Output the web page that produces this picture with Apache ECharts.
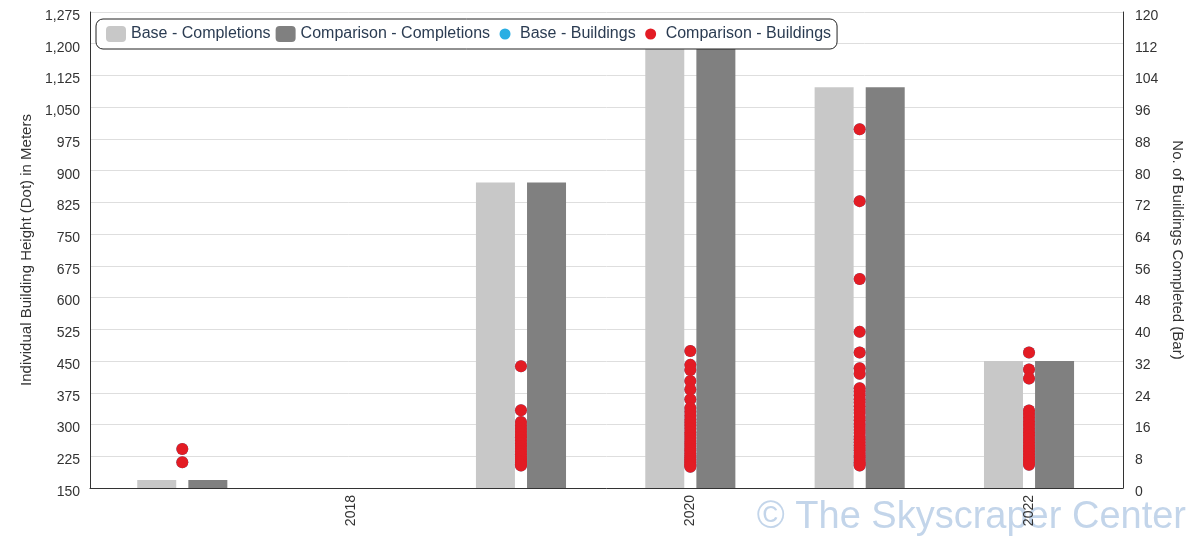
<!DOCTYPE html>
<html>
<head>
<meta charset="utf-8">
<script src="https://cdn.jsdelivr.net/npm/echarts@6/dist/echarts.min.js"></script>
<style>html,body{margin:0;padding:0;background:#fff}#c{width:1200px;height:537px}</style>
</head>
<body>
<div id="c"></div>
<script>
var years = ['2017', '2018', '2019', '2020', '2021', '2022'];
var baseCompletions = [2, 0, 77, 118, 101, 32];
var comparisonCompletions = [2, 0, 77, 118, 101, 32];

var heights2017 = [242, 211];
var heights2018 = [];
var heights2019 = [438, 334, 306, 298, 290, 283, 276, 270, 262, 255, 249, 243, 236, 230, 224, 219, 214, 210, 206, 203];
var heights2020 = [474, 441, 429, 403, 383, 360, 339, 330, 321, 312, 305, 298, 290, 282, 275, 268, 261, 255, 249, 243, 238, 232, 227, 222, 218, 214, 210, 206, 203, 200];
var heights2021 = [998, 828, 644, 519, 470, 433, 420, 386, 378, 369, 360, 352, 343, 335, 327, 318, 310, 302, 295, 287, 280, 272, 265, 258, 251, 245, 239, 233, 227, 222, 216, 211, 207, 203];
var heights2022 = [470, 430, 409, 333, 325, 316, 307, 299, 290, 282, 274, 266, 258, 250, 243, 236, 229, 222, 216, 210, 205];

var heightsByYear = [heights2017, heights2018, heights2019, heights2020, heights2021, heights2022];
var baseBuildings = heightsByYear;
var comparisonBuildings = heightsByYear;

function barData(arr) { return arr.map(function (v, i) { return [i, v]; }); }
function dotData(groups) {
  var out = [];
  groups.forEach(function (g, i) { g.forEach(function (h) { out.push([i, h]); }); });
  return out;
}

var FONT = "'Liberation Sans', Arial, sans-serif";
var chart = echarts.init(document.getElementById('c'), null, { renderer: 'canvas' });
var dotIcon = 'path://M0,0L0.05,0L0.05,0.05Z M20,16L19.95,16L19.95,15.95Z M15.5,8A5.5,5.5,0,1,1,4.5,8A5.5,5.5,0,1,1,15.5,8Z';

chart.setOption({
  animation: false,
  textStyle: { fontFamily: FONT },
  grid: { left: 90, right: 77, top: 12, bottom: 49, containLabel: false },
  legend: {
    left: 96, top: 19,
    padding: [7, 6, 7, 10],
    backgroundColor: '#fff',
    borderColor: '#222', borderWidth: 1, borderRadius: 7,
    itemWidth: 20, itemHeight: 16, itemGap: 5,
    textStyle: { fontSize: 16, color: '#2b3c52', fontFamily: FONT },
    data: [
      { name: 'Base - Completions', icon: 'roundRect' },
      { name: 'Comparison - Completions', icon: 'roundRect' },
      { name: 'Base - Buildings', icon: dotIcon },
      { name: 'Comparison - Buildings', icon: dotIcon }
    ]
  },
  xAxis: {
    type: 'value',
    min: -0.545, max: 5.555,
    axisLine: { show: true, onZero: false, lineStyle: { color: '#333', width: 1 } },
    axisTick: { show: false },
    splitLine: { show: false },
    axisLabel: {
      customValues: [1, 3, 5],
      formatter: function (v) { return years[Math.round(v)]; },
      rotate: 90, fontSize: 14, color: '#333', margin: 7, fontFamily: FONT
    }
  },
  yAxis: [
    {
      type: 'value', min: 150, max: 1275, interval: 75,
      name: 'Individual Building Height (Dot) in Meters',
      nameLocation: 'middle', nameGap: 56,
      nameTextStyle: { fontSize: 15, color: '#333', fontFamily: FONT },
      axisLine: { show: true, onZero: false, lineStyle: { color: '#333', width: 1 } },
      axisTick: { show: false },
      axisLabel: { fontSize: 14, color: '#333', margin: 10, fontFamily: FONT,
        verticalAlign: 'top', lineHeight: 8,
        formatter: function (v) { return v.toLocaleString('en-US'); } },
      splitLine: { show: true, lineStyle: { color: '#dedede', width: 1 } }
    },
    {
      type: 'value', min: 0, max: 120, interval: 8, position: 'right',
      name: 'No. of Buildings Completed (Bar)',
      nameLocation: 'middle', nameGap: 45, nameRotate: -90,
      nameTextStyle: { fontSize: 15, color: '#333', fontFamily: FONT },
      axisLine: { show: true, onZero: false, lineStyle: { color: '#333', width: 1 } },
      axisTick: { show: false },
      axisLabel: { fontSize: 14, color: '#333', margin: 12, fontFamily: FONT,
        verticalAlign: 'top', lineHeight: 8 },
      splitLine: { show: false }
    }
  ],
  graphic: [{
    type: 'text', right: 14, bottom: 0, z: -1, silent: true,
    style: { text: '\u00A9 The Skyscraper Center', fill: '#c3d5ea', font: '38px ' + FONT }
  }],
  series: [
    { name: 'Base - Completions', type: 'bar', yAxisIndex: 1, data: barData(baseCompletions),
      barWidth: 39, barGap: '31%', clip: true, itemStyle: { color: '#c8c8c8' } },
    { name: 'Comparison - Completions', type: 'bar', yAxisIndex: 1, data: barData(comparisonCompletions),
      barWidth: 39, barGap: '31%', clip: true, itemStyle: { color: '#808080' } },
    { name: 'Base - Buildings', type: 'scatter', yAxisIndex: 0, data: dotData(baseBuildings),
      symbolSize: 12, itemStyle: { color: '#29aee3', opacity: 1 } },
    { name: 'Comparison - Buildings', type: 'scatter', yAxisIndex: 0, data: dotData(comparisonBuildings),
      symbolSize: 12, itemStyle: { color: '#e31c24', opacity: 1 } }
  ]
});
</script>
</body>
</html>
